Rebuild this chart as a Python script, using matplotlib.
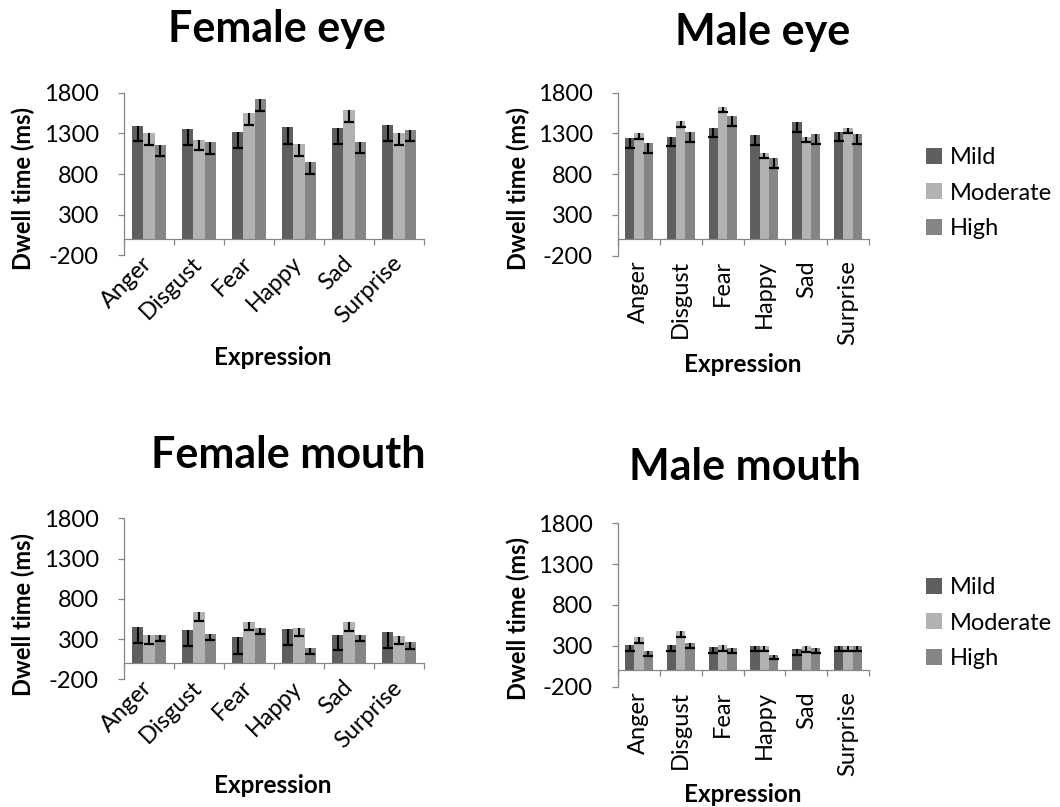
import numpy as np
import matplotlib
matplotlib.use('Agg')
import matplotlib.pyplot as plt

plt.rcParams['font.family'] = ['Lato', 'DejaVu Sans']

# ---------------- data ----------------
categories = ['Anger', 'Disgust', 'Fear', 'Happy', 'Sad', 'Surprise']
levels = ['Mild', 'Moderate', 'High']
yticks = [-200, 300, 800, 1300, 1800]

female_eye_mild = [1388, 1355, 1318, 1372, 1367, 1400]
female_eye_moderate = [1306, 1223, 1553, 1170, 1586, 1302]
female_eye_high = [1157, 1190, 1718, 947, 1199, 1347]
female_eye_mild_err = [185, 193, 198, 202, 201, 197]
female_eye_moderate_err = [144, 131, 153, 144, 144, 149]
female_eye_high_err = [132, 140, 145, 144, 145, 136]

male_eye_mild = [1243, 1260, 1362, 1280, 1440, 1321]
male_eye_moderate = [1301, 1448, 1628, 1055, 1252, 1370]
male_eye_high = [1178, 1313, 1513, 998, 1297, 1292]
male_eye_mild_err = [122, 115, 110, 123, 119, 119]
male_eye_moderate_err = [74, 66, 70, 61, 62, 61]
male_eye_high_err = [123, 123, 122, 123, 123, 122]

female_mouth_mild = [450, 417, 322, 425, 355, 384]
female_mouth_moderate = [346, 631, 507, 433, 507, 334]
female_mouth_high = [355, 359, 441, 186, 351, 260]
female_mouth_mild_err = [194, 198, 202, 194, 194, 198]
female_mouth_moderate_err = [107, 103, 95, 99, 103, 99]
female_mouth_high_err = [75, 70, 78, 66, 75, 79]

male_mouth_mild = [312, 312, 287, 300, 259, 296]
male_mouth_moderate = [402, 480, 304, 300, 296, 296]
male_mouth_high = [230, 333, 275, 181, 275, 296]
male_mouth_mild_err = [78, 78, 78, 70, 70, 66]
male_mouth_moderate_err = [65, 70, 70, 70, 70, 66]
male_mouth_high_err = [53, 66, 66, 45, 66, 66]

# ---------------- style ----------------
colors = ['#5f5f5f', '#b2b2b2', '#858585']
axis_gray = '#868686'
W, H = 1060, 807

fig = plt.figure(figsize=(W / 100, H / 100), dpi=100)


def rect(left, right, top, bottom):
    return [left / W, 1 - bottom / H, (right - left) / W, (bottom - top) / H]


def draw_panel(box, means, errs, rot, title, title_xy, xlabel_xy, ylabel_xy):
    ax = fig.add_axes(rect(*box))
    x = np.arange(len(categories))
    w = 1 / 4.5
    handles = []
    for i, (m, e) in enumerate(zip(means, errs)):
        m = np.asarray(m, dtype=float)
        e = np.asarray(e, dtype=float)
        xi = x + (i - 1) * w
        b = ax.bar(xi, m, width=w, color=colors[i], edgecolor='none', zorder=2,
                   label=levels[i])
        handles.append(b)
        ax.errorbar(xi, m, yerr=[e, np.zeros_like(e)], fmt='none', ecolor='black',
                    elinewidth=1.5, capsize=0, zorder=3)
        ax.plot(xi, m - e, ls='none', marker='_', ms=7.5, mew=1.6, color='black',
                zorder=3)
    ax.set_xlim(-0.5, len(categories) - 0.5)
    ax.set_ylim(-200, 1800)
    for s in ['top', 'right']:
        ax.spines[s].set_visible(False)
    ax.spines['bottom'].set_position(('data', 0))
    for s in ['left', 'bottom']:
        ax.spines[s].set_color(axis_gray)
        ax.spines[s].set_linewidth(0.9)
    ax.tick_params(axis='y', which='major', direction='out', length=4, width=0.9,
                   color=axis_gray, labelsize=17, pad=14)
    ax.tick_params(axis='x', which='major', length=0, labelsize=17, pad=15,
                   labelrotation=rot)
    ax.tick_params(axis='x', which='minor', direction='out', length=4.5, width=0.9,
                   color=axis_gray)
    ax.set_yticks(yticks)
    ax.set_yticklabels([str(t) for t in yticks])
    ax.set_xticks(np.arange(-0.5, len(categories), 1), minor=True)
    ax.set_xticks(x)
    ax.set_xticklabels(categories)
    for lab in ax.get_xticklabels():
        lab.set_rotation(rot)
        lab.set_ha('right')
        lab.set_va('center')
        lab.set_rotation_mode('anchor')
    ax.set_facecolor('none')
    fig.text(title_xy[0] / W, 1 - title_xy[1] / H, title, ha='center', va='baseline',
             fontsize=31, fontweight='bold')
    fig.text(xlabel_xy[0] / W, 1 - xlabel_xy[1] / H, 'Expression', ha='center',
             va='baseline', fontsize=17.5, fontweight='bold')
    fig.text(ylabel_xy[0] / W, 1 - ylabel_xy[1] / H, 'Dwell time (ms)', ha='center',
             va='center', rotation=90, fontsize=17, fontweight='bold')
    return ax, handles


ax1, h1 = draw_panel((124, 424, 92.7, 255.3),
                     [female_eye_mild, female_eye_moderate, female_eye_high],
                     [female_eye_mild_err, female_eye_moderate_err, female_eye_high_err],
                     45, 'Female eye', (277, 42), (273, 365), (23, 188))
ax2, h2 = draw_panel((618, 869, 92.7, 255.6),
                     [male_eye_mild, male_eye_moderate, male_eye_high],
                     [male_eye_mild_err, male_eye_moderate_err, male_eye_high_err],
                     90, 'Male eye', (763, 45), (743, 372), (518, 188))
ax3, h3 = draw_panel((124, 424, 518.3, 679.4),
                     [female_mouth_mild, female_mouth_moderate, female_mouth_high],
                     [female_mouth_mild_err, female_mouth_moderate_err, female_mouth_high_err],
                     45, 'Female mouth', (288, 468), (273, 793), (23, 614))
ax4, h4 = draw_panel((618, 869, 523.3, 686.6),
                     [male_mouth_mild, male_mouth_moderate, male_mouth_high],
                     [male_mouth_mild_err, male_mouth_moderate_err, male_mouth_high_err],
                     90, 'Male mouth', (745, 480), (743, 802), (518, 619))

for handles, yc in [(h2, 193), (h4, 623)]:
    fig.legend(handles, levels, loc='center left', bbox_to_anchor=(926 / W, 1 - yc / H),
               frameon=False, fontsize=17, handlelength=0.67, handleheight=0.67,
               handletextpad=0.35, labelspacing=0.62, borderpad=0, borderaxespad=0)

fig.savefig('out.png', dpi=100)
